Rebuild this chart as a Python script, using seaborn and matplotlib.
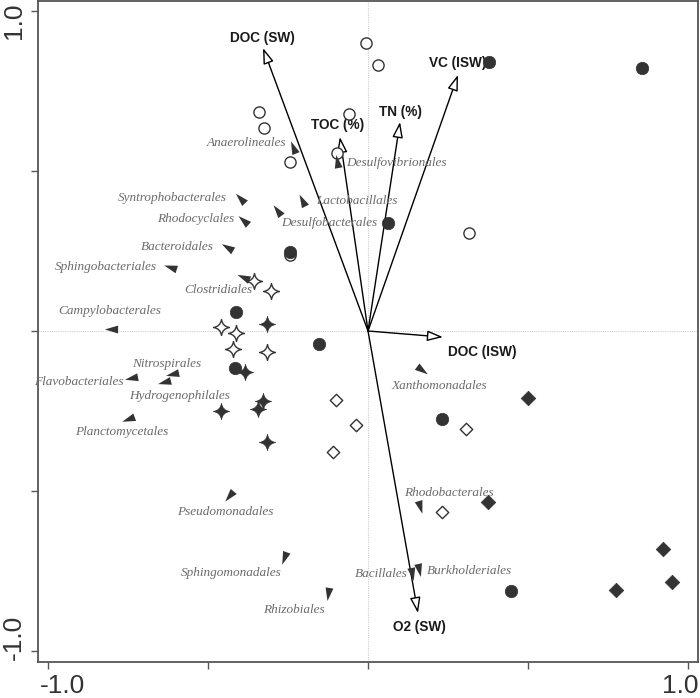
import numpy as np
import pandas as pd
import seaborn as sns
import matplotlib
matplotlib.use('Agg')
import matplotlib.pyplot as plt
from matplotlib.path import Path
from matplotlib.markers import MarkerStyle
from matplotlib.transforms import Affine2D, ScaledTranslation

# sample scores (axis 1, axis 2), grouped by symbol
open_circle_x = [-0.006, 0.031, -0.341, -0.325, -0.059, -0.244, -0.097, -0.244, 0.316]
open_circle_y = [0.900, 0.831, 0.684, 0.634, 0.678, 0.528, 0.556, 0.238, 0.306]
filled_circle_x = [0.378, 0.856, 0.063, -0.244, -0.413, -0.153, -0.416, 0.231, 0.447]
filled_circle_y = [0.841, 0.822, 0.338, 0.247, 0.059, -0.041, -0.116, -0.275, -0.813]
open_star_x = [-0.356, -0.303, -0.459, -0.413, -0.422, -0.316]
open_star_y = [0.156, 0.125, 0.013, -0.006, -0.056, -0.066]
filled_star_x = [-0.316, -0.384, -0.459, -0.328, -0.344, -0.316]
filled_star_y = [0.022, -0.128, -0.250, -0.219, -0.244, -0.347]
open_diamond_x = [-0.100, -0.109, -0.038, 0.306, 0.231]
open_diamond_y = [-0.216, -0.378, -0.294, -0.306, -0.566]
filled_diamond_x = [0.500, 0.375, 0.922, 0.950, 0.775]
filled_diamond_y = [-0.209, -0.534, -0.681, -0.784, -0.809]

# environmental variables (arrow tips)
env_names = ['DOC (SW)', 'TOC (%)', 'TN (%)', 'VC (ISW)', 'DOC (ISW)', 'O2 (SW)']
env_x = [-0.328, -0.088, 0.100, 0.281, 0.234, 0.156]
env_y = [0.884, 0.606, 0.653, 0.800, -0.019, -0.881]

# species (orders)
species_names = ['Anaerolineales', 'Desulfovibrionales', 'Syntrophobacterales', 'Lactobacillales',
                 'Desulfobacterales', 'Rhodocyclales', 'Bacteroidales', 'Sphingobacteriales',
                 'Clostridiales', 'Campylobacterales', 'Nitrospirales', 'Flavobacteriales',
                 'Hydrogenophilales', 'Planctomycetales', 'Pseudomonadales', 'Sphingomonadales',
                 'Rhizobiales', 'Xanthomonadales', 'Rhodobacterales', 'Bacillales', 'Burkholderiales']
species_x = [-0.234, -0.097, -0.400, -0.206, -0.284, -0.391, -0.441, -0.619, -0.391, -0.803,
             -0.613, -0.741, -0.638, -0.750, -0.434, -0.263, -0.125, 0.169, 0.163, 0.138, 0.159]
species_y = [0.575, 0.531, 0.416, 0.409, 0.378, 0.347, 0.262, 0.200, 0.169, 0.006,
             -0.134, -0.147, -0.159, -0.275, -0.516, -0.709, -0.822, -0.122, -0.550, -0.759, -0.747]

# label placement (data coords), kept apart from the data
env_label_pos = [(-0.331, 0.916), (-0.094, 0.644), (0.100, 0.684), (0.281, 0.838),
                 (0.356, -0.066), (0.159, -0.925)]
species_label_pos = [(-0.381, 0.588), (0.088, 0.525), (-0.613, 0.416), (-0.034, 0.406),
                     (-0.122, 0.338), (-0.538, 0.350), (-0.597, 0.263), (-0.819, 0.200),
                     (-0.469, 0.128), (-0.806, 0.063), (-0.628, -0.103), (-0.903, -0.159),
                     (-0.588, -0.203), (-0.769, -0.316), (-0.447, -0.566), (-0.428, -0.756),
                     (-0.231, -0.872), (0.222, -0.172), (0.253, -0.506), (0.041, -0.759),
                     (0.316, -0.750)]

dark = '#333333'

sns.set_style('white')
plt.rcParams['font.family'] = ['Liberation Sans', 'DejaVu Sans']

fig = plt.figure(figsize=(7, 6.98), dpi=100)
ax = fig.add_axes([0.0543, 0.0516, 0.9429, 0.947])

# 4-pointed star with concave sides
c = 0.13
star = Path([(0, 1), (c, c), (1, 0), (c, -c), (0, -1), (-c, -c), (-1, 0), (-c, c), (0, 1), (0, 1)],
            [Path.MOVETO, Path.CURVE3, Path.CURVE3, Path.CURVE3, Path.CURVE3,
             Path.CURVE3, Path.CURVE3, Path.CURVE3, Path.CURVE3, Path.CLOSEPOLY])

ax.axhline(0, color='#cfcfcf', lw=0.8, ls=(0, (1, 1)), zorder=0)
ax.axvline(0, color='#cfcfcf', lw=0.8, ls=(0, (1, 1)), zorder=0)

# environmental arrows
for name, x, y, (lx, ly) in zip(env_names, env_x, env_y, env_label_pos):
    ax.annotate('', xy=(x, y), xytext=(0, 0),
                arrowprops=dict(arrowstyle='-|>,head_length=0.95,head_width=0.32',
                                fc='white', ec='black', lw=1.0, shrinkA=0, shrinkB=0),
                zorder=2)
    ax.text(lx, ly, name, ha='center', va='center', fontsize=9.8, weight='bold',
            color='#1a1a1a', zorder=2)

sns.scatterplot(x=open_circle_x, y=open_circle_y, marker='o', s=65, facecolor='white',
                edgecolor=dark, linewidth=1.0, ax=ax, zorder=3)
sns.scatterplot(x=filled_circle_x, y=filled_circle_y, marker='o', s=80, color=dark,
                edgecolor=dark, linewidth=0.5, ax=ax, zorder=3)
sns.scatterplot(x=open_star_x, y=open_star_y, marker=star, s=130, facecolor='white',
                edgecolor=dark, linewidth=1.0, ax=ax, zorder=3)
sns.scatterplot(x=filled_star_x, y=filled_star_y, marker=star, s=140, color=dark,
                edgecolor=dark, linewidth=0.5, ax=ax, zorder=3)
sns.scatterplot(x=open_diamond_x, y=open_diamond_y, marker='D', s=40, facecolor='white',
                edgecolor=dark, linewidth=1.0, ax=ax, zorder=3)
sns.scatterplot(x=filled_diamond_x, y=filled_diamond_y, marker='D', s=55, color=dark,
                edgecolor=dark, linewidth=0.5, ax=ax, zorder=3)

# species as arrowheads pointing away from the origin
head = Path([(1, 0), (-1, 0.6), (-1, -0.6), (1, 0)],
            [Path.MOVETO, Path.LINETO, Path.LINETO, Path.CLOSEPOLY])
for name, x, y, (lx, ly) in zip(species_names, species_x, species_y, species_label_pos):
    ang = np.degrees(np.arctan2(y, x))
    m = MarkerStyle(head, transform=Affine2D().rotate_deg(ang))
    ax.scatter([x], [y], marker=m, s=90, color=dark, linewidths=0, zorder=4)
    ax.text(lx, ly, name, ha='center', va='center', fontsize=9.5, style='italic',
            family='Liberation Serif', color='#6a6a6a', zorder=5)

ax.set_xlim(-1.031, 1.031)
ax.set_ylim(-1.034, 1.031)
ax.set_xticks([-1.0, -0.5, 0.0, 0.5, 1.0])
ax.set_xticklabels(['-1.0', '', '', '', '1.0'])
ax.set_yticks([-1.0, -0.5, 0.0, 0.5, 1.0])
ax.set_yticklabels(['-1.0', '', '', '', '1.0'], rotation=90, va='center')
ax.tick_params(direction='out', length=5, width=1, color='#555555',
               labelsize=19, labelcolor='#333333', pad=4)
ax.tick_params(axis='x', bottom=True)
ax.tick_params(axis='y', left=True)

# nudge the end labels inwards as in the reference
xl = ax.get_xticklabels()
xl[0].set_transform(xl[0].get_transform() + ScaledTranslation(0.15, 0, fig.dpi_scale_trans))
xl[-1].set_transform(xl[-1].get_transform() + ScaledTranslation(-0.08, 0, fig.dpi_scale_trans))
yl = ax.get_yticklabels()
yl[0].set_transform(yl[0].get_transform() + ScaledTranslation(0, 0.14, fig.dpi_scale_trans))
yl[-1].set_transform(yl[-1].get_transform() + ScaledTranslation(0, -0.10, fig.dpi_scale_trans))

for sp in ax.spines.values():
    sp.set_color('#555555')
    sp.set_linewidth(1.3)

fig.savefig('out.png', dpi=100)
